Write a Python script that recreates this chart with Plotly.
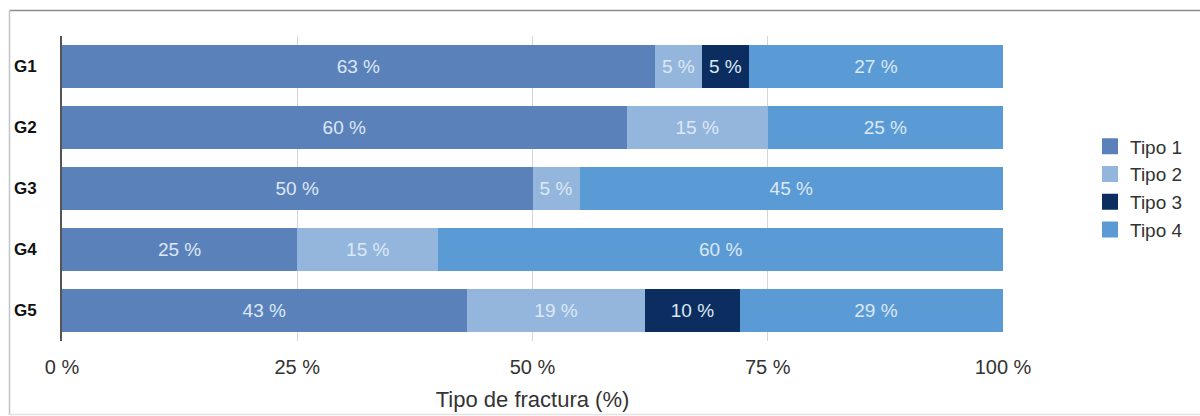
import plotly.graph_objects as go

groups = ["G1", "G2", "G3", "G4", "G5"]
tipo1 = [63, 60, 50, 25, 43]
tipo2 = [5, 15, 5, 15, 19]
tipo3 = [5, 0, 0, 0, 10]
tipo4 = [27, 25, 45, 60, 29]
series_names = ["Tipo 1", "Tipo 2", "Tipo 3", "Tipo 4"]
x_ticks = [0, 25, 50, 75, 100]
x_tick_labels = ["0 %", "25 %", "50 %", "75 %", "100 %"]

colors = ["#5a81b9", "#95b6dc", "#0b2d5f", "#5b9bd5"]
series = [tipo1, tipo2, tipo3, tipo4]
FONT = "Liberation Sans, Arial, Helvetica, sans-serif"

fig = go.Figure()
for name, vals, col in zip(series_names, series, colors):
    fig.add_trace(go.Bar(
        y=groups, x=vals, name=name, orientation="h",
        marker=dict(color=col, line=dict(width=0)),
        text=[f"{v} %" if v > 0 else "" for v in vals],
        textposition="inside", insidetextanchor="middle",
        textfont=dict(color="#dce8f6", size=19, family=FONT),
        constraintext="none", showlegend=False,
    ))
# legend entries (square swatches)
for name, col in zip(series_names, colors):
    fig.add_trace(go.Scatter(
        x=[None], y=[None], mode="markers", name=name,
        marker=dict(symbol="square", size=16, color=col),
        showlegend=True, hoverinfo="skip",
    ))

L, R, T, B = 62, 1003, 36, 341
W, H = 1200, 416
pw, ph = R - L, B - T

def px(x):
    return (x - L) / pw

def py(y):
    return (B - y) / ph

fig.update_layout(
    width=W, height=H,
    barmode="stack", bargap=0.29,
    margin=dict(l=L, r=W - R, t=T, b=H - B, autoexpand=False),
    plot_bgcolor="white", paper_bgcolor="white",
    font=dict(family=FONT, color="#333"),
    showlegend=True,
    legend=dict(
        x=px(1090), y=py(188), xanchor="left", yanchor="middle",
        font=dict(size=19, color="#333", family=FONT), traceorder="normal",
        bgcolor="rgba(0,0,0,0)", itemsizing="trace",
    ),
)

fig.update_xaxes(
    range=[0, 100], tickvals=x_ticks, ticktext=x_tick_labels,
    showgrid=True, gridcolor="#d4d4d4", gridwidth=1,
    zeroline=False, showline=False, automargin=False,
    tickfont=dict(size=20, color="#333", family=FONT),
    ticks="", ticklabelstandoff=12,
    title=dict(text="Tipo de fractura (%)", font=dict(size=22, color="#333", family=FONT), standoff=14),
)
fig.update_yaxes(
    autorange="reversed", showgrid=False, zeroline=False, automargin=False,
    showline=True, linecolor="#555", linewidth=2,
    tickfont=dict(size=17, color="#111", family=FONT, weight="bold"),
    ticks="", ticklabelstandoff=20,
)

# outer frame (top darker, left lighter, bottom faint)
frame = [
    (9.5, 10.5, 1200, 10.5, "#8c8c8c"),
    (9.5, 10.5, 9.5, 415, "#c4c4c4"),
    (9.5, 414.5, 1200, 414.5, "#e2e2e2"),
]
for x0, y0, x1, y1, c in frame:
    fig.add_shape(type="line", xref="paper", yref="paper",
                  x0=px(x0), y0=py(y0), x1=px(x1), y1=py(y1),
                  line=dict(color=c, width=1.5), layer="below")

fig.write_html("out.html", config={"displayModeBar": False},
               post_script="document.body.style.margin='0';document.body.style.overflow='hidden';")
